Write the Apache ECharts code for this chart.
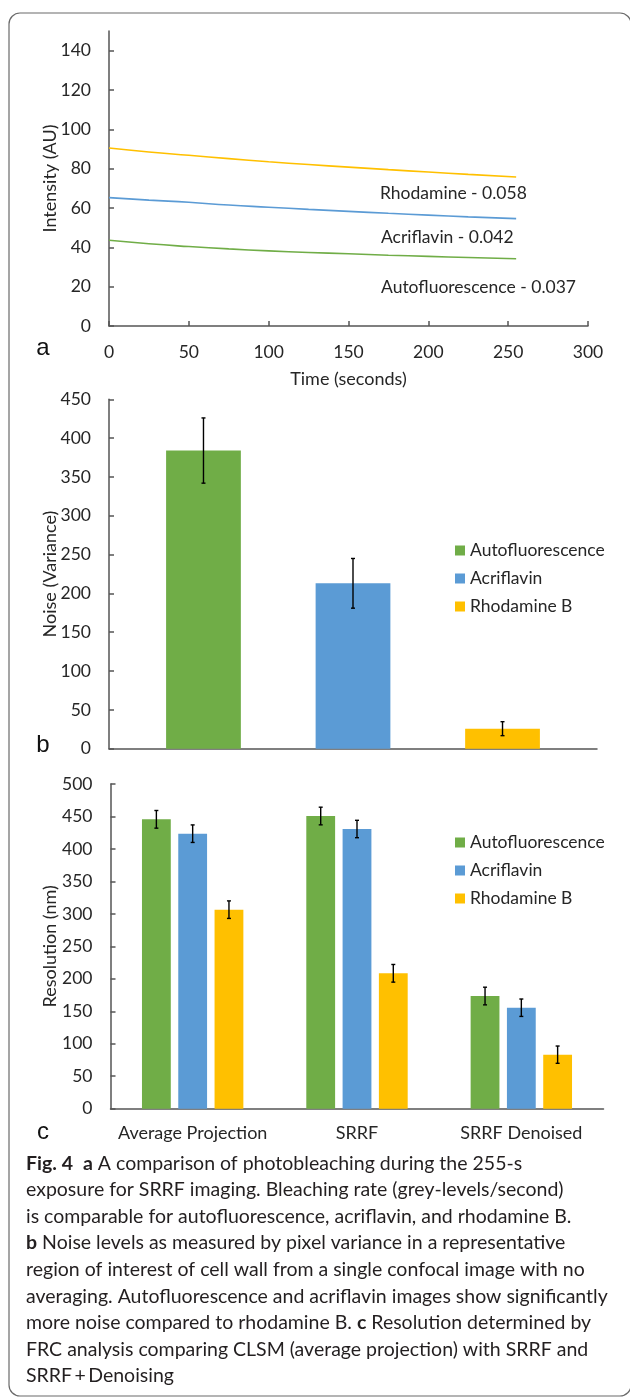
<!DOCTYPE html>
<html>
<head>
<meta charset="utf-8">
<script src="https://cdn.jsdelivr.net/npm/echarts@6.0.0/dist/echarts.min.js"></script>
<style>
html,body{margin:0;padding:0;background:#fff;}
#chart{width:630px;height:1397px;}
</style>
</head>
<body>
<div id="chart"></div>
<script>
// ---------- Panel a: photobleaching curves ----------
const timeA = [0, 25, 50, 75, 100, 125, 150, 175, 200, 225, 255];
const rhodamineA = [90.5, 88.5, 86.8, 85.1, 83.5, 82.1, 80.8, 79.5, 78.3, 77.1, 75.8];
const acriflavinA = [65.3, 64.0, 62.9, 61.5, 60.4, 59.3, 58.3, 57.3, 56.4, 55.5, 54.6];
const autoA = [43.6, 41.8, 40.4, 39.2, 38.2, 37.4, 36.7, 36.0, 35.4, 34.8, 34.2];
const lineLabels = ['Rhodamine - 0.058', 'Acriflavin - 0.042', 'Autofluorescence - 0.037'];
const yTicksA = [0, 20, 40, 60, 80, 100, 120, 140];

// ---------- Panel b: noise ----------
const seriesNames = ['Autofluorescence', 'Acriflavin', 'Rhodamine B'];
const noiseValues = [384, 213, 25.8];
const noiseErrors = [42, 32, 9];

// ---------- Panel c: resolution ----------
const categoriesC = ['Average Projection', 'SRRF', 'SRRF Denoised'];
const autoC = [445.6, 450.7, 173.5];
const acrC = [423.5, 430.7, 155.5];
const rhoC = [306.5, 208.5, 83.2];
const autoErrC = [13.6, 13.6, 13.6];
const acrErrC = [13.5, 13.4, 13.4];
const rhoErrC = [13.5, 13.6, 13.3];

// ---------- Caption ----------
const captionLines = [
  '{b|Fig. 4}  {b|a} A comparison of photobleaching during the 255-s',
  'exposure for SRRF imaging. Bleaching rate (grey-levels/second)',
  'is comparable for autofluorescence, acriflavin, and rhodamine B.',
  '{b|b} Noise levels as measured by pixel variance in a representative',
  'region of interest of cell wall from a single confocal image with no',
  'averaging. Autofluorescence and acriflavin images show significantly',
  'more noise compared to rhodamine B. {b|c} Resolution determined by',
  'FRC analysis comparing CLSM (average projection) with SRRF and',
  'SRRF\u2009+\u2009Denoising'
];

const colors = ['#70AD47', '#5B9BD5', '#FFC000'];
const FONT = 'Lato';
const TXT = '#262626';
const AXIS = '#555555';
const CAP_FS = 19.5;

const chart = echarts.init(document.getElementById('chart'), null, {renderer: 'canvas'});

function errRender(catGap, barGap, n) {
  return function (params, api) {
    const cat = api.value(0), val = api.value(1), err = api.value(2), si = api.value(3);
    const top = api.coord([cat, val + err]);
    const bot = api.coord([cat, val - err]);
    const band = api.size([1, 0])[0];
    const bw = band * (1 - catGap) / (n + (n - 1) * barGap);
    const total = n * bw + (n - 1) * barGap * bw;
    const x = top[0] - total / 2 + si * bw * (1 + barGap) + bw / 2;
    const c = 2;
    const st = {stroke: '#000', lineWidth: 1.4};
    return {
      type: 'group',
      children: [
        {type: 'line', shape: {x1: x, y1: top[1], x2: x, y2: bot[1]}, style: st},
        {type: 'line', shape: {x1: x - c, y1: top[1], x2: x + c, y2: top[1]}, style: st},
        {type: 'line', shape: {x1: x - c, y1: bot[1], x2: x + c, y2: bot[1]}, style: st}
      ]
    };
  };
}

const axisLineStyle = {show: true, lineStyle: {color: AXIS, width: 1.5}};
const tickStyle = {show: true, inside: true, length: 5, lineStyle: {color: AXIS, width: 1.5}};
const labelStyle = {color: TXT, fontFamily: FONT, fontSize: 17.5};
const nameStyle = {color: TXT, fontFamily: FONT, fontSize: 18};

const catGapB = 0.234, barGapB = 1.0;
const catGapC = 0.383, barGapC = 0.26;

const errB = noiseValues.map((v, i) => [0, v, noiseErrors[i], i]);
const errC = [];
[autoC, acrC, rhoC].forEach((arr, si) => {
  const errs = [autoErrC, acrErrC, rhoErrC][si];
  arr.forEach((v, ci) => errC.push([ci, v, errs[ci], si]));
});

const letterFont = '24px "Liberation Sans"';
const graphics = [
  {type: 'rect', shape: {x: 9, y: 13, width: 622, height: 1383, r: 11},
   style: {fill: 'none', stroke: '#6a6a6a', lineWidth: 1.2}, silent: true},
  {type: 'text', x: 43, y: 348, style: {text: 'a', font: letterFont, fill: '#111', textAlign: 'center', textVerticalAlign: 'middle'}},
  {type: 'text', x: 43, y: 745, style: {text: 'b', font: letterFont, fill: '#111', textAlign: 'center', textVerticalAlign: 'middle'}},
  {type: 'text', x: 43, y: 1132, style: {text: 'c', font: letterFont, fill: '#111', textAlign: 'center', textVerticalAlign: 'middle'}},
  {type: 'text', x: 380, y: 193.5, style: {text: lineLabels[0], font: '17.5px Lato', fill: TXT, textVerticalAlign: 'middle'}},
  {type: 'text', x: 381, y: 237.7, style: {text: lineLabels[1], font: '17.5px Lato', fill: TXT, textVerticalAlign: 'middle'}},
  {type: 'text', x: 381, y: 287.3, style: {text: lineLabels[2], font: '17.5px Lato', fill: TXT, textVerticalAlign: 'middle'}}
];
captionLines.forEach((ln, i) => {
  graphics.push({
    type: 'text', x: 26, y: 1163.3 + i * 26.6,
    style: {
      text: ln, fill: '#231f20', font: CAP_FS + 'px Lato', textVerticalAlign: 'middle',
      rich: {b: {fontWeight: 'bold', fontFamily: FONT, fontSize: CAP_FS, fill: '#231f20'}}
    }
  });
});

const legendText = {color: TXT, fontFamily: FONT, fontSize: 17.5, lineHeight: 18};

const option = {
  animation: false,
  backgroundColor: '#fff',
  textStyle: {fontFamily: FONT},
  grid: [
    {left: 109, top: 31, width: 479, height: 295},
    {left: 109, top: 399.3, width: 488, height: 349.4},
    {left: 110.5, top: 784, width: 493, height: 324.7}
  ],
  xAxis: [
    {gridIndex: 0, type: 'value', min: 0, max: 300, interval: 50,
     axisLine: axisLineStyle, axisTick: tickStyle, splitLine: {show: false},
     axisLabel: Object.assign({margin: 17}, labelStyle),
     name: 'Time (seconds)', nameLocation: 'middle', nameGap: 44, nameMoveOverlap: false, nameTextStyle: nameStyle},
    {gridIndex: 1, type: 'category', data: [''],
     axisLine: axisLineStyle, axisTick: {show: false}, axisLabel: {show: false}},
    {gridIndex: 2, type: 'category', data: categoriesC,
     axisLine: axisLineStyle, axisTick: {show: false},
     axisLabel: {margin: 15, fontSize: 18, color: TXT, fontFamily: FONT, interval: 0, hideOverlap: false}}
  ],
  yAxis: [
    {gridIndex: 0, type: 'value', min: 0, max: 150,
     axisLine: axisLineStyle,
     axisTick: Object.assign({customValues: yTicksA}, tickStyle),
     splitLine: {show: false},
     axisLabel: Object.assign({margin: 18, customValues: yTicksA}, labelStyle),
     name: 'Intensity (AU)', nameLocation: 'middle', nameGap: 50, nameMoveOverlap: false, nameTextStyle: nameStyle},
    {gridIndex: 1, type: 'value', min: 0, max: 450, interval: 50,
     axisLine: axisLineStyle, axisTick: tickStyle, splitLine: {show: false},
     axisLabel: Object.assign({margin: 18}, labelStyle),
     name: 'Noise (Variance)', nameLocation: 'middle', nameGap: 50, nameMoveOverlap: false, nameTextStyle: nameStyle},
    {gridIndex: 2, type: 'value', min: 0, max: 500, interval: 50,
     axisLine: axisLineStyle, axisTick: tickStyle, splitLine: {show: false},
     axisLabel: Object.assign({margin: 18}, labelStyle),
     name: 'Resolution (nm)', nameLocation: 'middle', nameGap: 51, nameMoveOverlap: false, nameTextStyle: nameStyle}
  ],
  legend: [
    {data: seriesNames, orient: 'vertical', left: 450, top: 536.5, itemWidth: 10, itemHeight: 10,
     itemGap: 10, icon: 'rect', selectedMode: false, textStyle: legendText},
    {data: seriesNames, orient: 'vertical', left: 450, top: 828.5, itemWidth: 10, itemHeight: 10,
     itemGap: 10, icon: 'rect', selectedMode: false, textStyle: legendText}
  ],
  graphic: graphics,
  series: [
    {type: 'line', name: 'Rhodamine a', xAxisIndex: 0, yAxisIndex: 0, smooth: true, showSymbol: false,
     data: timeA.map((t, i) => [t, rhodamineA[i]]), lineStyle: {color: colors[2], width: 1.6}},
    {type: 'line', name: 'Acriflavin a', xAxisIndex: 0, yAxisIndex: 0, smooth: true, showSymbol: false,
     data: timeA.map((t, i) => [t, acriflavinA[i]]), lineStyle: {color: colors[1], width: 1.6}},
    {type: 'line', name: 'Auto a', xAxisIndex: 0, yAxisIndex: 0, smooth: true, showSymbol: false,
     data: timeA.map((t, i) => [t, autoA[i]]), lineStyle: {color: colors[0], width: 1.6}},

    {type: 'bar', name: seriesNames[0], xAxisIndex: 1, yAxisIndex: 1, data: [noiseValues[0]],
     itemStyle: {color: colors[0]}, barGap: '100%', barCategoryGap: (catGapB * 100) + '%'},
    {type: 'bar', name: seriesNames[1], xAxisIndex: 1, yAxisIndex: 1, data: [noiseValues[1]],
     itemStyle: {color: colors[1]}, barGap: '100%', barCategoryGap: (catGapB * 100) + '%'},
    {type: 'bar', name: seriesNames[2], xAxisIndex: 1, yAxisIndex: 1, data: [noiseValues[2]],
     itemStyle: {color: colors[2]}, barGap: '100%', barCategoryGap: (catGapB * 100) + '%'},
    {type: 'custom', xAxisIndex: 1, yAxisIndex: 1, z: 5, data: errB,
     renderItem: errRender(catGapB, barGapB, 3), encode: {x: 0, y: 1}},

    {type: 'bar', name: seriesNames[0], xAxisIndex: 2, yAxisIndex: 2, data: autoC,
     itemStyle: {color: colors[0]}, barGap: (barGapC * 100) + '%', barCategoryGap: (catGapC * 100) + '%'},
    {type: 'bar', name: seriesNames[1], xAxisIndex: 2, yAxisIndex: 2, data: acrC,
     itemStyle: {color: colors[1]}, barGap: (barGapC * 100) + '%', barCategoryGap: (catGapC * 100) + '%'},
    {type: 'bar', name: seriesNames[2], xAxisIndex: 2, yAxisIndex: 2, data: rhoC,
     itemStyle: {color: colors[2]}, barGap: (barGapC * 100) + '%', barCategoryGap: (catGapC * 100) + '%'},
    {type: 'custom', xAxisIndex: 2, yAxisIndex: 2, z: 5, data: errC,
     renderItem: errRender(catGapC, barGapC, 3), encode: {x: 0, y: 1}}
  ]
};
chart.setOption(option);
</script>
</body>
</html>
